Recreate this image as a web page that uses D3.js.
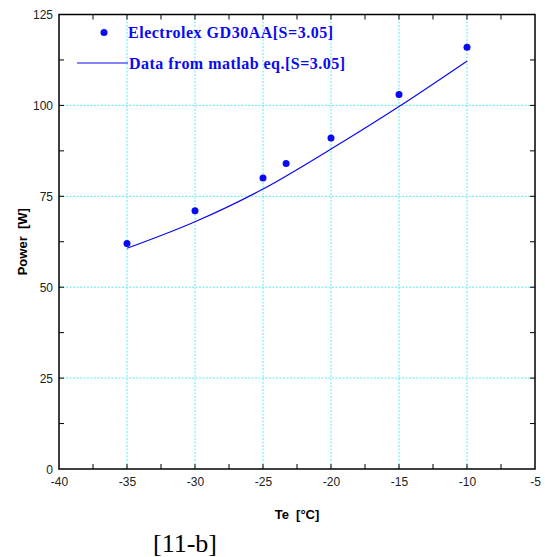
<!DOCTYPE html>
<html><head><meta charset="utf-8">
<script src="https://cdn.jsdelivr.net/npm/d3@7"></script>
<style>body{margin:0;background:#fff}svg{display:block}text{white-space:pre}</style>
</head><body>
<script>
const expTe = [-35, -30, -25, -23.3, -20, -15, -10];
const expPower = [62, 71, 80, 84, 91, 103, 116];
const modelTe = [-35, -30, -25, -20, -15, -10];
const modelPower = [60.7, 68.0, 77.0, 88.0, 99.7, 112.2];
const xTicks = [-40, -35, -30, -25, -20, -15, -10, -5];
const yTicks = [0, 25, 50, 75, 100, 125];
const legendLabels = ["Electrolex GD30AA[S=3.05]", "Data from matlab eq.[S=3.05]"];

const W = 545, H = 557;
const L = 59, R = 535, T = 14.5, B = 469;
const blue = "#0a0af0";
const svg = d3.select("body").append("svg").attr("width", W).attr("height", H);
const x = d3.scaleLinear().domain([-40, -5]).range([L, R]);
const y = d3.scaleLinear().domain([0, 125]).range([B, T]);

// grid
const g = svg.append("g");
g.selectAll(".gx").data(xTicks.filter(d => d > -40 && d < -5)).enter().append("line")
  .attr("x1", d => x(d)).attr("x2", d => x(d)).attr("y1", T).attr("y2", B)
  .attr("stroke", "#33e6f0").attr("stroke-width", 0.8).attr("stroke-dasharray", "2,1.5");
g.selectAll(".gy").data(yTicks.filter(d => d > 0 && d < 125)).enter().append("line")
  .attr("y1", d => y(d)).attr("y2", d => y(d)).attr("x1", L).attr("x2", R)
  .attr("stroke", "#33e6f0").attr("stroke-width", 0.8).attr("stroke-dasharray", "2,1.5");

// axes with inward ticks
const tickFmt = d => String(d);
const minorX = d3.range(-37.5, -5, 5);
const minorY = d3.range(12.5, 125, 25);
const axB = svg.append("g").attr("transform", `translate(0,${B})`)
  .call(d3.axisBottom(x).tickValues(xTicks).tickSize(0).tickPadding(8).tickFormat(tickFmt));
const axL = svg.append("g").attr("transform", `translate(${L},0)`)
  .call(d3.axisLeft(y).tickValues(yTicks).tickSize(0).tickPadding(6).tickFormat(tickFmt));
[axB, axL].forEach(a => {
  a.select(".domain").remove();
  a.selectAll("text").attr("font-family", "Liberation Sans, Arial, sans-serif").attr("font-size", 12).attr("fill", "#222");
});
axL.selectAll("text").attr("dy", "0.35em");

const tk = svg.append("g").attr("stroke", "#000").attr("stroke-width", 1);
const allX = minorX.concat(xTicks.slice(1, -1));
const allY = minorY.concat(yTicks.slice(1, -1));
tk.selectAll(".tb").data(allX).enter().append("line")
  .attr("x1", d => x(d)).attr("x2", d => x(d)).attr("y1", B).attr("y2", B - 5);
tk.selectAll(".tt").data(allX).enter().append("line")
  .attr("x1", d => x(d)).attr("x2", d => x(d)).attr("y1", T).attr("y2", T + 5);
tk.selectAll(".tl").data(allY).enter().append("line")
  .attr("y1", d => y(d)).attr("y2", d => y(d)).attr("x1", L).attr("x2", L + 5);
tk.selectAll(".tr").data(allY).enter().append("line")
  .attr("y1", d => y(d)).attr("y2", d => y(d)).attr("x1", R).attr("x2", R - 5);

svg.append("rect").attr("x", L).attr("y", T).attr("width", R - L).attr("height", B - T)
  .attr("fill", "none").attr("stroke", "#000").attr("stroke-width", 1.5);

// model line
const lineData = modelTe.map((t, i) => [t, modelPower[i]]);
svg.append("path").datum(lineData)
  .attr("d", d3.line().x(d => x(d[0])).y(d => y(d[1])).curve(d3.curveMonotoneX))
  .attr("fill", "none").attr("stroke", blue).attr("stroke-width", 1.2);

// points
svg.selectAll(".pt").data(expTe.map((t, i) => [t, expPower[i]])).enter().append("circle")
  .attr("cx", d => x(d[0])).attr("cy", d => y(d[1])).attr("r", 3.5).attr("fill", blue);

// legend
svg.append("circle").attr("cx", 104).attr("cy", 32.5).attr("r", 3.5).attr("fill", blue);
svg.append("line").attr("x1", 77).attr("x2", 128).attr("y1", 63).attr("y2", 63)
  .attr("stroke", blue).attr("stroke-width", 1.2);
const lf = "Liberation Serif, 'Times New Roman', serif";
svg.append("text").attr("x", 128).attr("y", 38).text(legendLabels[0])
  .attr("font-family", lf).attr("font-weight", "bold").attr("font-size", 16)
  .attr("fill", blue).attr("textLength", 205).attr("lengthAdjust", "spacing");
svg.append("text").attr("x", 129).attr("y", 68.5).text(legendLabels[1])
  .attr("font-family", lf).attr("font-weight", "bold").attr("font-size", 16)
  .attr("fill", blue).attr("textLength", 216).attr("lengthAdjust", "spacing");

// axis titles
svg.append("text").attr("x", (L + R) / 2).attr("y", 519).attr("text-anchor", "middle")
  .attr("font-family", "Liberation Sans, Arial, sans-serif").attr("font-weight", "bold").attr("font-size", 13)
  .text("Te  [°C]");
svg.append("text").attr("transform", `translate(27,${(T + B) / 2}) rotate(-90)`).attr("text-anchor", "middle")
  .attr("font-family", "Liberation Sans, Arial, sans-serif").attr("font-weight", "bold").attr("font-size", 13)
  .text("Power  [W]");
svg.append("text").attr("x", 153).attr("y", 552)
  .attr("font-family", lf).attr("font-size", 26).text("[11-b]");
</script>
</body></html>
